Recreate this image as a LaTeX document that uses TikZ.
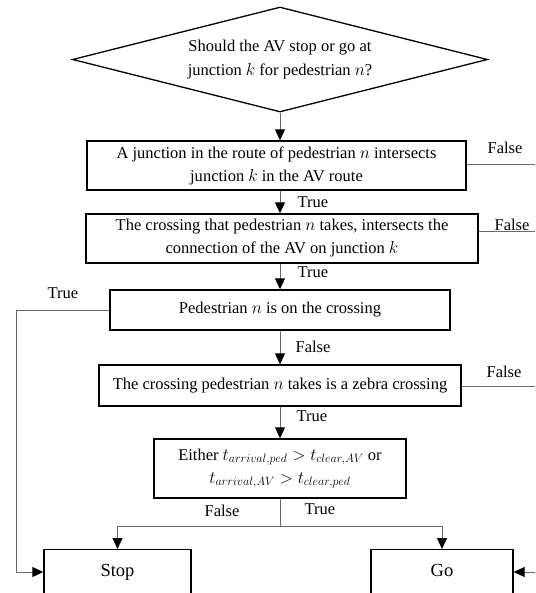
\documentclass[tikz,border=0pt]{standalone}
\usepackage{fontspec}
\setmainfont{Liberation Serif}
\usetikzlibrary{shapes.geometric,arrows.meta}
\definecolor{linegray}{RGB}{105,105,105}
\begin{document}
\begin{tikzpicture}[x=1pt,y=-1pt,
  font=\fontsize{16.5}{23}\selectfont,
  box/.style={draw=black, line width=1.4pt, rectangle, align=center, inner sep=0pt},
  decision/.style={draw=black, line width=1.3pt, diamond, aspect=4, align=center, inner sep=0pt,
    minimum width=415pt, minimum height=105pt},
  term/.style={draw=black, line width=1.4pt, rectangle, anchor=north, inner xsep=0pt,
    inner ysep=14pt, text height=13pt, text depth=60pt, font=\fontsize{18.5}{23}\selectfont},
  conn/.style={draw=linegray, line width=1pt},
  arr/.style={conn, -{Triangle[length=11pt,width=10pt,color=black]}},
  lbl/.style={inner sep=0pt}]
\clip (0,0) rectangle (535,593);
\coordinate (sp) at (280,0);
% nodes
\node[decision] (q) at (280,59.5) {Should the AV stop or go at\\[1pt]junction $k$ for pedestrian $n$?};
\node[box, minimum width=379pt, minimum height=49pt] (b1) at (276.5,165.5)
  {A junction in the route of pedestrian $n$ intersects\\junction $k$ in the AV route};
\node[box, minimum width=392pt, minimum height=49pt] (b2) at (282,238.5)
  {The crossing that pedestrian $n$ takes, intersects the\\connection of the AV on junction $k$};
\node[box, minimum width=340pt, minimum height=40pt] (b3) at (280,310)
  {Pedestrian $n$ is on the crossing};
\node[box, minimum width=362pt, minimum height=41pt] (b4) at (280,385.5)
  {The crossing pedestrian $n$ takes is a zebra crossing};
\node[box, minimum width=252pt, minimum height=59pt] (b5) at (280,468.5)
  {Either $t_{arrival,ped} > t_{clear,AV}$ or\\$t_{arrival,AV} > t_{clear,ped}$};
\node[term, minimum width=147pt] (stop) at (117.5,549) {Stop};
\node[term, minimum width=142pt] (go) at (442,549) {Go};
% labels
\node[lbl] (f1) at (505,148) {False};
\node[lbl] (t1) at (313,202) {True};
\node[lbl] (f2) at (512,225) {False};
\node[lbl] (t2) at (313,272) {True};
\node[lbl] (t3) at (63,293) {True};
\node[lbl] (f3) at (313,347) {False};
\node[lbl] (f4) at (504,372) {False};
\node[lbl] (t4) at (312,416) {True};
\node[lbl] (f5) at (222,511) {False};
\node[lbl] (t5) at (320,509) {True};
% free ends
\coordinate (r1) at (535,165);
\coordinate (r2) at (535,232);
\coordinate (r4) at (535,386);
\coordinate (rg) at (535,572);
\coordinate (ls) at (16,572);
\coordinate (br) at (280,526);
% connectors
\draw[arr] (q.south) -- (sp |- b1.north);
\draw[arr] (sp |- b1.south) -- (sp |- b2.north);
\draw[arr] (sp |- b2.south) -- (sp |- b3.north);
\draw[arr] (sp |- b3.south) -- (sp |- b4.north);
\draw[arr] (sp |- b4.south) -- (sp |- b5.north);
\draw[conn] (sp |- b5.south) -- (br);
\draw[arr] (br) -| (stop.north);
\draw[arr] (br) -| (go.north);
\draw[conn] (b1.east |- r1) -- (r1);
\draw[conn] (b2.east |- r2) -- (r2);
\draw[conn] (b4.east |- r4) -- (r4);
\draw[arr] (rg) -- (go.east |- rg);
\draw[arr] (b3.west) -| (ls) -- (stop.west |- ls);
\end{tikzpicture}
\end{document}
